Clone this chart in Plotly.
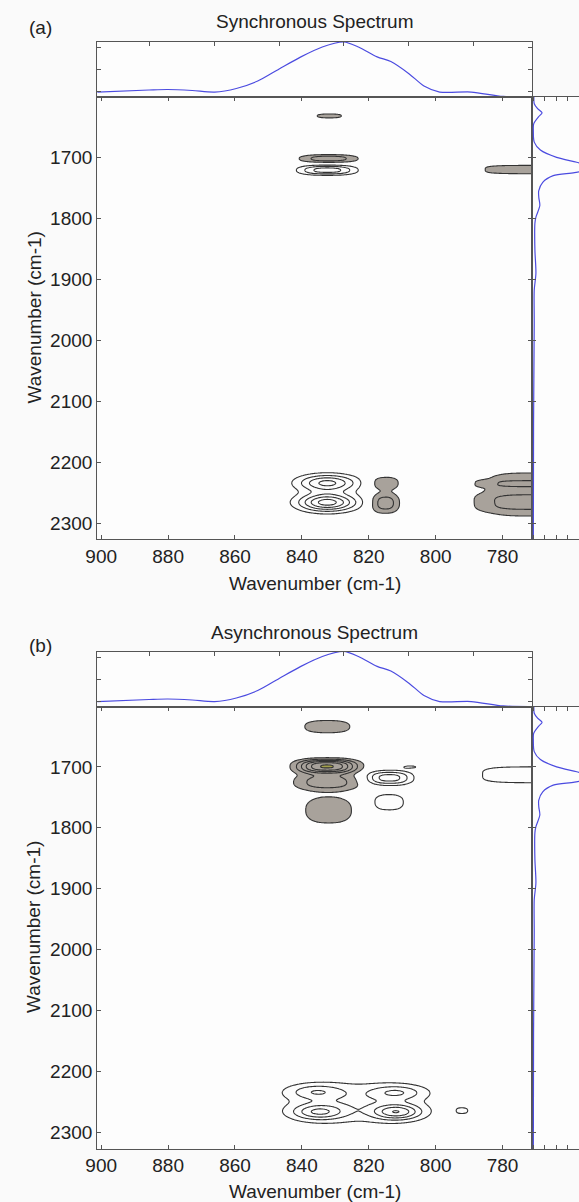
import numpy as np
import plotly.graph_objects as go

W, H = 579, 1202

# ---- projection spectra (same for both maps) ----
top_wn = [901.2, 885.7, 880.1, 872.8, 866.1, 859.6, 853.2, 846.8, 840.3, 833.9,
          827.5, 823.1, 817.5, 813.4, 807.9, 803.5, 798.8, 789.4, 779.8, 771.2]
top_abs = [0.09, 0.127, 0.136, 0.118, 0.09, 0.155, 0.29, 0.51, 0.73, 0.91,
           1.0, 0.91, 0.73, 0.645, 0.42, 0.2, 0.09, 0.09, 0.01, 0.0]

side_wn = [1601, 1612, 1620, 1627, 1633, 1645, 1656, 1675, 1688, 1700, 1708, 1717,
           1725, 1730, 1741, 1755, 1766, 1779, 1798, 1808, 1852, 1890, 1918, 1972,
           2136, 2328]
side_abs = [0.017, 0.02, 0.05, 0.09, 0.06, 0.015, 0.012, 0.02, 0.075, 0.22, 0.40, 0.58,
            0.38, 0.19, 0.096, 0.06, 0.061, 0.07, 0.035, 0.026, 0.026, 0.035, 0.02, 0.02,
            0.014, 0.012]

# ---- correlation peaks: centre (cm-1), signed height (contour-level units),
#      widths along x and y, and edge sharpness of each peak ----
sync_cx = [831.8, 832.0, 832.4, 769.0, 832.4, 832.4, 815.2, 815.2,
           769.0, 769.0, 769.0]
sync_cy = [1632.0, 1702.0, 1721.0, 1720.0, 2234.0, 2266.0, 2234.0, 2267.0,
           2253.0, 2235.0, 2266.0]
sync_amp = [-1.6, -2.6, 3.5, -1.9, 4.3, 5.5, -1.7, -2.6,
            -1.45, -0.9, -1.0]
sync_sx = [3.7, 6.8, 6.4, 15.2, 6.2, 6.0, 3.9, 3.4,
           17.5, 16.0, 16.0]
sync_sy = [3.3, 5.0, 5.9, 6.4, 9.8, 10.3, 9.3, 13.1,
           38.0, 5.2, 12.0]
sync_p = [2.5, 2.5, 2.5, 4.0, 2.0, 2.0, 2.5, 2.5,
          4.0, 4.0, 4.0]

async_cx = [832.4, 832.5, 832.5, 814.0, 807.5, 814.0, 832.0, 767.0,
            835.9, 835.0, 811.6, 811.6, 823.7, 792.0]
async_cy = [1634.0, 1699.0, 1725.0, 1718.0, 1700.0, 1758.0, 1771.0, 1713.0,
            2233.0, 2266.0, 2234.0, 2266.0, 2251.0, 2264.0]
async_amp = [-1.5, -6.1, -2.6, 3.5, 1.05, 1.5, -1.9, 1.5,
             2.2, 3.35, 2.3, 4.1, 1.5, 1.05]
async_sx = [7.3, 6.6, 7.7, 5.2, 3.0, 4.7, 6.2, 20.0,
            6.0, 5.6, 5.8, 5.1, 15.5, 2.3]
async_sy = [10.9, 8.4, 10.8, 8.6, 3.0, 13.6, 19.0, 13.7,
            8.8, 9.2, 8.5, 9.0, 28.0, 6.3]
async_p = [2.5, 2.5, 2.5, 2.5, 2.5, 2.5, 2.5, 4.0,
           2.0, 2.0, 2.0, 2.0, 2.0, 2.5]

x_ticks = [900, 880, 860, 840, 820, 800, 780]
y_ticks = [1700, 1800, 1900, 2000, 2100, 2200, 2300]
top_edge_ticks = [885.7, 866.1, 846.8, 827.5, 808.1, 788.8]

X_RANGE = [901.2, 771.2]
Y_RANGE = [2326, 1601]

GRAY = "#a8a29b"
OLIVE = "#a3a04c"
LINE = "#333333"
BLUE = "#4b4be0"
AXIS = "#555555"
FONT = "Liberation Sans, Arial, sans-serif"

gx = np.arange(770.0, 902.01, 0.4)
gy = np.concatenate([np.arange(1595.0, 1820.0, 0.8),
                     np.arange(1830.0, 2180.0, 10.0),
                     np.arange(2180.0, 2332.0, 0.8)])


def surface(cx, cy, amp, sx, sy, pw):
    GX, GY = np.meshgrid(gx, gy)
    Z = np.zeros_like(GX)
    for x0, y0, a, wx, wy, e in zip(cx, cy, amp, sx, sy, pw):
        Z += a * np.exp(-0.5 * (np.abs((GX - x0) / wx) ** e
                                + np.abs((GY - y0) / wy) ** e))
    return np.round(Z, 3)


def px(x):
    return x / W


def py(y):
    return 1 - y / H


neg_scale = [[0.0, "rgba(255,255,255,0)"], [0.07, "rgba(255,255,255,0)"],
             [0.072, GRAY], [0.78, GRAY], [0.79, OLIVE], [1.0, OLIVE]]

fig = go.Figure()
layout = {}
annotations = []

panels = [
    dict(name="Synchronous Spectrum", tag="(a)", top=42, split=97, bottom=539,
         fields=(sync_cx, sync_cy, sync_amp, sync_sx, sync_sy, sync_p),
         title_y=22, tag_y=28, xtitle_y=583),
    dict(name="Asynchronous Spectrum", tag="(b)", top=651.5, split=706.5, bottom=1148.5,
         fields=(async_cx, async_cy, async_amp, async_sx, async_sy, async_p),
         title_y=632, tag_y=645, xtitle_y=1191),
]

axis_common = dict(showgrid=False, zeroline=False, showline=True, linecolor=AXIS,
                   linewidth=1, ticks="inside", ticklen=4, tickcolor=AXIS, tickwidth=1)
label_font = dict(family=FONT, size=19, color="#222")

for i, p in enumerate(panels):
    n_top, n_main, n_side = 3 * i + 1, 3 * i + 2, 3 * i + 3

    def ax(n):
        return "" if n == 1 else str(n)

    x_main = [px(87), px(531)]
    # top projection
    layout["xaxis" + ax(n_top)] = dict(axis_common, domain=x_main, range=X_RANGE,
                                       anchor="y" + ax(n_top), side="top", mirror=True,
                                       tickvals=top_edge_ticks, showticklabels=False)
    layout["yaxis" + ax(n_top)] = dict(axis_common, domain=[py(p["split"]), py(p["top"])],
                                       range=[0, 1.0], anchor="x" + ax(n_top), mirror="ticks",
                                       tickvals=[0.1, 0.5, 0.9], showticklabels=False)
    # contour map
    layout["xaxis" + ax(n_main)] = dict(axis_common, domain=x_main, range=X_RANGE,
                                        anchor="y" + ax(n_main), mirror="ticks",
                                        tickvals=x_ticks, tickfont=label_font)
    layout["yaxis" + ax(n_main)] = dict(axis_common, domain=[py(p["bottom"]), py(p["split"])],
                                        range=Y_RANGE, anchor="x" + ax(n_main), mirror="ticks",
                                        tickvals=y_ticks, tickfont=label_font)
    # side projection
    layout["xaxis" + ax(n_side)] = dict(axis_common, domain=[px(531), 1.0], range=[0, 0.42],
                                        anchor="y" + ax(n_side), mirror="ticks",
                                        tick0=0.115, dtick=0.1, showticklabels=False)
    layout["yaxis" + ax(n_side)] = dict(axis_common, domain=[py(p["bottom"]), py(p["split"])],
                                        range=Y_RANGE, anchor="x" + ax(n_side), mirror=False,
                                        tickvals=y_ticks, showticklabels=False)

    Z = surface(*p["fields"])
    fig.add_trace(go.Contour(x=gx, y=gy, z=(-Z).tolist(), xaxis="x" + ax(n_main),
                             yaxis="y" + ax(n_main),
                             contours=dict(start=1, end=7, size=1, coloring="fill"),
                             colorscale=neg_scale, showscale=False,
                             line=dict(color=LINE, width=1.1), hoverinfo="skip"))
    fig.add_trace(go.Contour(x=gx, y=gy, z=Z.tolist(), xaxis="x" + ax(n_main),
                             yaxis="y" + ax(n_main),
                             contours=dict(start=1, end=7, size=1, coloring="none"),
                             showscale=False, line=dict(color=LINE, width=1.1),
                             hoverinfo="skip"))
    fig.add_trace(go.Scatter(x=top_wn, y=top_abs, mode="lines", xaxis="x" + ax(n_top),
                             yaxis="y" + ax(n_top), line=dict(color=BLUE, width=1.2,
                                                              shape="spline", smoothing=0.8),
                             hoverinfo="skip"))
    fig.add_trace(go.Scatter(x=side_abs, y=side_wn, mode="lines", xaxis="x" + ax(n_side),
                             yaxis="y" + ax(n_side), line=dict(color=BLUE, width=1.2,
                                                               shape="spline", smoothing=0.8),
                             hoverinfo="skip"))

    annotations += [
        dict(text=p["name"], x=px(309), y=py(p["title_y"]), xref="paper", yref="paper",
             xanchor="center", yanchor="middle", showarrow=False, font=label_font),
        dict(text=p["tag"], x=px(15), y=py(p["tag_y"]), xref="paper", yref="paper",
             xanchor="left", yanchor="middle", showarrow=False, font=label_font),
        dict(text="Wavenumber (cm-1)", x=px(309), y=py(p["xtitle_y"]), xref="paper",
             yref="paper", xanchor="center", yanchor="middle", showarrow=False,
             font=label_font),
        dict(text="Wavenumber (cm-1)", x=px(22), y=py((p["split"] + p["bottom"]) / 2),
             xref="paper", yref="paper", xanchor="center", yanchor="middle", textangle=-90,
             showarrow=False, font=label_font),
    ]

fig.update_layout(**layout)
fig.update_layout(width=W, height=H, margin=dict(l=0, r=0, t=0, b=0),
                  paper_bgcolor="#fafafa", plot_bgcolor="#fdfdfd", showlegend=False,
                  annotations=annotations, font=dict(family=FONT))

fig.write_html("out.html")
